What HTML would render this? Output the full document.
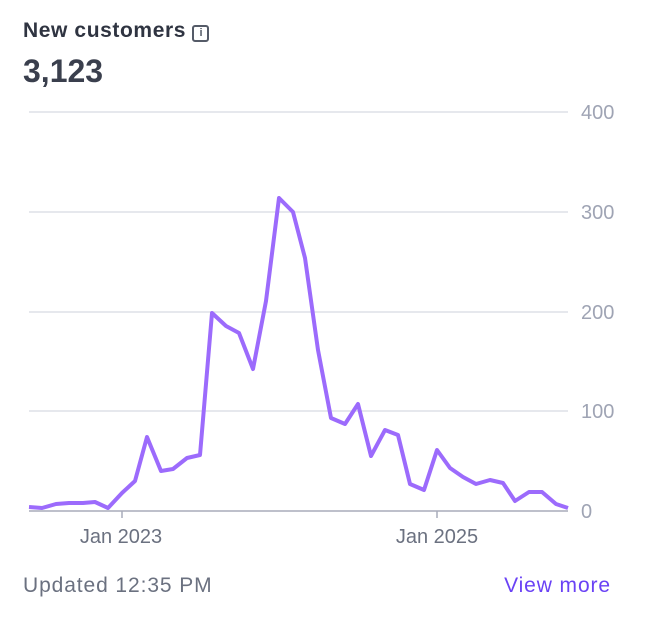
<!DOCTYPE html>
<html><head><style>
body{margin:0;background:#fff;font-family:"Liberation Sans",sans-serif;}
.wrap{position:relative;width:646px;height:620px;overflow:hidden;}
.t{position:absolute;left:23px;top:19px;font-size:21px;font-weight:bold;color:#2f3441;letter-spacing:0.6px;}
.v{position:absolute;left:23px;top:53px;font-size:32px;font-weight:bold;color:#3a3f4d;}
.u{position:absolute;left:23px;top:574px;font-size:21px;color:#6b7180;letter-spacing:0.9px;}
.m{position:absolute;right:35px;top:574px;font-size:21px;color:#6a42f5;letter-spacing:0.9px;}
</style></head><body><div class="wrap">
<div class="t">New customers <span style="display:inline-block;width:13px;height:13px;border:2px solid #555b68;border-radius:3px;vertical-align:1px;position:relative;font-size:11px;line-height:13px;text-align:center;color:#555b68;letter-spacing:0">i</span></div>
<div class="v">3,123</div>
<svg width="646" height="620" style="position:absolute;left:0;top:0">
<g stroke="#d8dbe2" stroke-width="1.3">
<line x1="29" x2="568" y1="112" y2="112"/><line x1="29" x2="568" y1="212" y2="212"/>
<line x1="29" x2="568" y1="312" y2="312"/><line x1="29" x2="568" y1="411" y2="411"/>
</g>
<line x1="29" x2="568" y1="511" y2="511" stroke="#a8acba" stroke-width="1.5"/>
<line x1="122" x2="122" y1="511" y2="518" stroke="#a8acba" stroke-width="1.5"/>
<line x1="437" x2="437" y1="511" y2="518" stroke="#a8acba" stroke-width="1.5"/>
<g font-size="20" fill="#9fa4b4" font-family="Liberation Sans">
<text x="581" y="119">400</text><text x="581" y="219">300</text><text x="581" y="319">200</text><text x="581" y="418">100</text><text x="581" y="518">0</text>
<text x="121" y="543" text-anchor="middle" fill="#6b7180">Jan 2023</text>
<text x="437" y="543" text-anchor="middle" fill="#6b7180">Jan 2025</text>
</g>
<polyline fill="none" stroke="#9c6bfc" stroke-width="4" stroke-linejoin="round" points="29,507 42,508 56,504 69,503 83,503 95,502 108,508 122,493 135,481 147,437 161,471 173,469 187,458 200,455 212,313 226,326 239,333 253,369 266,301 279,198 293,212 305,258 318,350 331,418 345,424 358,404 371,456 385,430 398,435 410,484 424,490 437,450 450,468 463,477 476,484 490,480 503,483 515,501 529,492 542,492 556,504 568,508"/>
</svg>
<div class="u">Updated 12:35 PM</div>
<div class="m">View more</div>
</div></body></html>
